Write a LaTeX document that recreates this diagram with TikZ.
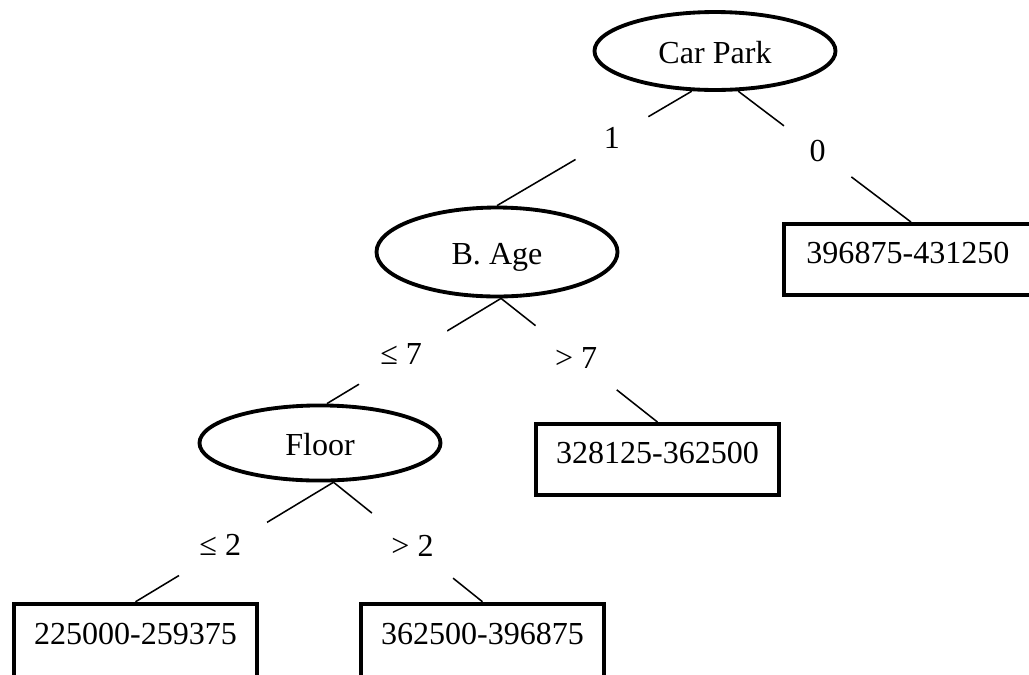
\documentclass[tikz,border=0pt]{standalone}
\usepackage{fontspec}
\setmainfont{Liberation Serif}
\usetikzlibrary{shapes.geometric}
\begin{document}
\begin{tikzpicture}[x=.39pt,y=-.39pt,
  every node/.style={font=\fontsize{12.5}{15}\selectfont},
  attr/.style={ellipse,draw,line width=1.5pt,inner sep=0pt,minimum width=94pt,text height=11pt,text depth=1pt},
  leaf/.style={rectangle,draw,line width=1.5pt,inner sep=0pt,minimum width=94.5pt,minimum height=27.7pt,text height=8.5pt,text depth=5pt},
  cond/.style={circle,fill=white,inner sep=8pt}]
\useasboundingbox (0,0) rectangle (1029,674);
\clip (0,0) rectangle (1029,674);
\node[attr,minimum height=30.4pt] (carpark) at (715,51) {Car Park};
\node[attr,minimum height=34.7pt] (bage) at (497,252) {B. Age};
\node[attr,minimum height=29.3pt] (floor) at (320,443) {Floor};
\node[leaf,minimum width=99pt] (r0) at (911,259.5) {\hspace*{-2.4pt}396875-431250};
\node[leaf] (r1) at (657.5,459.5) {328125-362500};
\node[leaf,minimum height=33pt,text height=8pt,text depth=9.5pt] (r2) at (135.5,646) {225000-259375};
\node[leaf,minimum height=33pt,text height=8pt,text depth=9.5pt] (r3) at (482.5,646) {362500-396875};
\draw[semithick] (carpark.240) -- node[cond,pos=.41] (c1) {1} (bage.north);
\draw[semithick] (carpark.300) -- node[cond,pos=.46] (c0) {0} (r0.north);
\draw[semithick] (bage.275) -- node[cond,pos=.53,xshift=-3pt] (c2) {≤ 7} (floor.80);
\draw[semithick] (bage.275) -- node[cond,pos=.48] (c3) {> 7} (r1.north);
\draw[semithick] (floor.289) -- node[cond,pos=.52,xshift=-4pt] (c4) {≤ 2} (r2.north);
\draw[semithick] (floor.289) -- node[cond,pos=.53] (c5) {> 2} (r3.north);
\end{tikzpicture}
\end{document}
